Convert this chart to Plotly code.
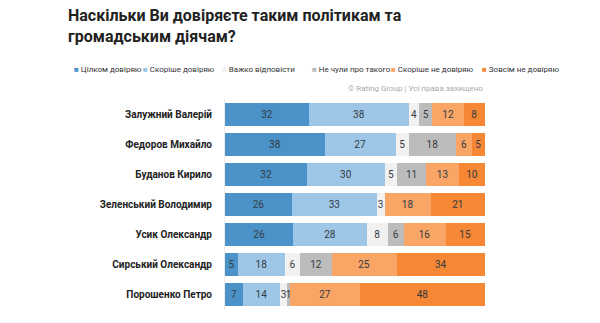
import plotly.graph_objects as go

names = ["Залужний Валерій", "Федоров Михайло", "Буданов Кирило", "Зеленський Володимир",
         "Усик Олександр", "Сирський Олександр", "Порошенко Петро"]
series = ["Цілком довіряю", "Скоріше довіряю", "Важко відповісти", "Не чули про такого",
          "Скоріше не довіряю", "Зовсім не довіряю"]
fully_trust = [32, 38, 32, 26, 26, 5, 7]
rather_trust = [38, 27, 30, 33, 28, 18, 14]
hard_to_say = [4, 5, 5, 3, 8, 6, 3]
not_heard = [5, 18, 11, 0, 6, 12, 1]
rather_distrust = [12, 6, 13, 18, 16, 25, 27]
fully_distrust = [8, 5, 10, 21, 15, 34, 48]
values = [fully_trust, rather_trust, hard_to_say, not_heard, rather_distrust, fully_distrust]
colors = ["#4a92c8", "#9ec6e6", "#f1f1f1", "#bcbcbc", "#f9a566", "#f58735"]
title_lines = ["Наскільки Ви довіряєте таким політикам та", "громадським діячам?"]

W, H = 600, 323
L, R, T, B = 225, 485, 99, 310.5

totals = [sum(col) for col in zip(*values)]

fig = go.Figure()
for s, v, c in zip(series, values, colors):
    shares = [x / t * 100 for x, t in zip(v, totals)]
    fig.add_trace(go.Bar(
        y=names, x=shares, orientation="h", name=s, marker=dict(color=c, line=dict(width=0)),
        text=[str(x) if x else "" for x in v], textposition="inside", insidetextanchor="middle",
        textangle=0, textfont=dict(family="Roboto", size=10, color="#333b44"),
        showlegend=False, hoverinfo="skip", cliponaxis=False))

def px2x(px):
    return (px - L) / (R - L)

def py2y(py):
    return (B - py) / (B - T)

annotations = []
leg_x = [72, 141, 220, 310, 389, 480]
for s, c, lx in zip(series, colors, leg_x):
    annotations.append(dict(
        xref="paper", yref="paper", x=px2x(lx), y=py2y(69), xanchor="left", yanchor="middle",
        text=f"<span style='color:{c}'>■</span> {s}", showarrow=False,
        font=dict(family="Roboto", size=8, color="#333333")))
annotations.append(dict(
    xref="paper", yref="paper", x=1, y=py2y(88), xanchor="right", yanchor="middle",
    text="© Rating Group | Усі права захищено", showarrow=False,
    font=dict(family="Roboto", size=8, color="#aaaaaa")))
annotations.append(dict(
    xref="paper", yref="paper", x=px2x(66), y=py2y(25.5), xanchor="left", yanchor="middle",
    align="left", text="<b>" + "<br>".join(title_lines) + "</b>", showarrow=False,
    font=dict(family="Roboto", size=16, color="#222222")))

fig.update_layout(
    width=W, height=H,
    margin=dict(l=L, r=W - R, t=T, b=H - B, autoexpand=False),
    barmode="stack", bargap=0.24,
    paper_bgcolor="white", plot_bgcolor="white",
    uniformtext=dict(minsize=10, mode="show"),
    xaxis=dict(range=[0, 100.05], visible=False, fixedrange=True),
    yaxis=dict(categoryorder="array", categoryarray=names[::-1], showgrid=False,
               ticks="", ticklabelstandoff=10, showline=True, linecolor="#ececec", linewidth=1,
               tickfont=dict(family="Roboto", size=10, color="#222222", weight="bold")),
    annotations=annotations,
    font=dict(family="Roboto"),
)

fig.write_html("out.html")
